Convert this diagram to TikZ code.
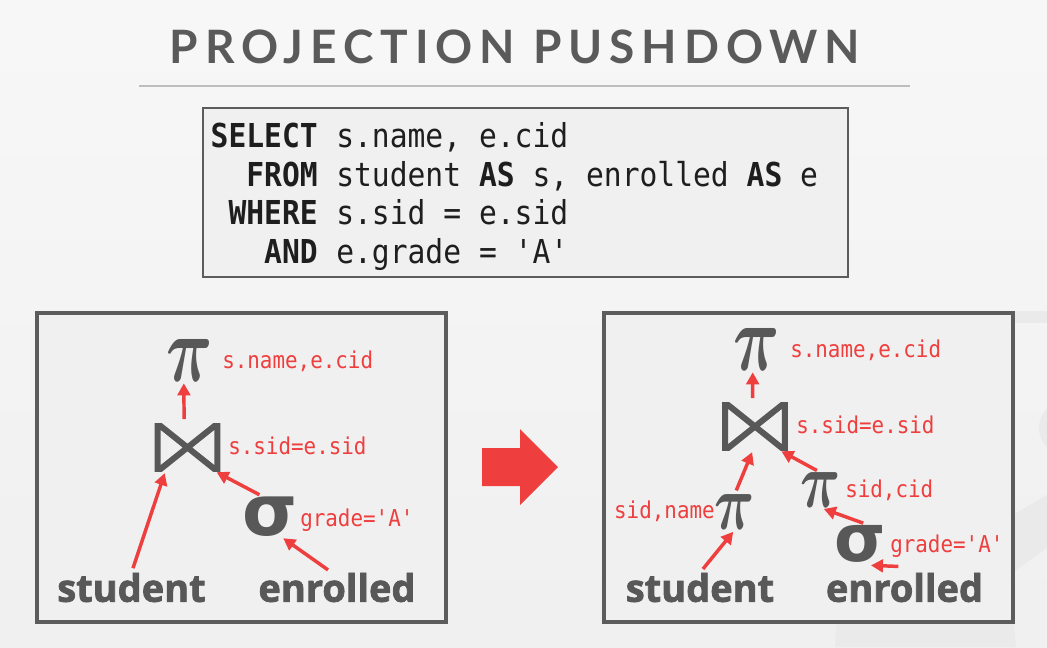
\RequirePackage{fix-cm}
\documentclass[tikz,border=0pt]{standalone}
\usepackage{fontspec}
\usetikzlibrary{arrows.meta}

\newfontfamily\titlefont[LetterSpace=15]{Lato}
\newfontfamily\codefont[FakeStretch=0.9]{DejaVu Sans Mono}
\newfontfamily\relfont[BoldFeatures={FakeBold=2}]{Open Sans}
\newfontfamily\greekfont{DejaVu Sans}

\definecolor{slidered}{RGB}{238,62,62}
\definecolor{opgray}{RGB}{88,88,88}
\definecolor{titlegray}{RGB}{90,90,90}
\definecolor{framegray}{RGB}{92,92,92}
\definecolor{panelgray}{RGB}{240,240,240}
\definecolor{markgray}{RGB}{234,234,234}
\definecolor{rulegray}{RGB}{190,190,190}
\definecolor{codeblack}{RGB}{30,30,30}

% pi and sigma glyphs
\newcommand{\projsym}[2]{\scalebox{#2}[1]{\fontsize{#1}{#1}\selectfont\boldmath$\pi$}}
\newcommand{\selsym}[1]{{\greekfont\bfseries\fontsize{#1}{#1}\selectfont σ}}
% bowtie drawn inside an empty node
\newcommand{\joinglyph}[1]{%
  \begin{scope}
    \clip (#1.south west) rectangle (#1.north east);
    \draw[joinline] ([xshift=2.25pt]#1.north west) -- ([xshift=-2.25pt]#1.south east)
      -- ([xshift=-2.25pt]#1.north east) -- ([xshift=2.25pt]#1.south west) -- cycle;
  \end{scope}}

\begin{document}
\begin{tikzpicture}[x=0.75pt,y=-0.75pt,
    panel/.style={draw=framegray,line width=2.6pt,fill=panelgray},
    op/.style={inner sep=0pt,text=opgray},
    rel/.style={inner sep=0pt,text=opgray,font=\relfont\bfseries\fontsize{28.5}{30}\selectfont},
    cond/.style={inner sep=0pt,text=slidered,font=\codefont\fontsize{17.4}{18}\selectfont},
    kw/.style={inner sep=0pt,anchor=base east,text=codeblack,font=\codefont\bfseries\fontsize{24.7}{26}\selectfont},
    code/.style={inner sep=0pt,anchor=base west,text=codeblack,font=\codefont\fontsize{24.7}{26}\selectfont},
    flow/.style={draw=slidered,line width=2.6pt,shorten <=3.5pt,shorten >=1.5pt,
      -{Triangle[length=9pt,width=9.5pt]}},
    joinbox/.style={inner sep=0pt,minimum width=48.75pt,minimum height=35.25pt},
    joinline/.style={draw=opgray,line width=4.5pt}]

    \useasboundingbox (0,0) rectangle (1047,647);
    % background and watermark
    \shade[top color=white!97!black,bottom color=white!94!black] (0,0) rectangle (1047,647);
    \begin{scope}
      \clip (0,0) rectangle (1047,647);
      \fill[markgray] (1013,311) rectangle (1047,323);
      \fill[markgray] (1066,428) circle (27);
      \fill[markgray] (1013,515) -- (1047,495) -- (1047,548) -- (1013,572) -- cycle;
      \fill[markgray] (837,615) -- (1013,615) -- (1016,647) -- (835,647) -- cycle;
    \end{scope}

    % title
    \node[anchor=base,inner sep=0pt,text=titlegray,font=\titlefont\bfseries\fontsize{34.5}{36}\selectfont]
      (title) at (515,63) {PROJECTION PUSHDOWN};
    \draw[rulegray,line width=1.5pt] (139,86) -- (910,86);

    % query
    \draw[draw=framegray,line width=2.2pt,fill=panelgray] (203,108) rectangle (848,277);
    \node[kw] (kwSelect) at (318,147) {SELECT};
    \node[code] (lnSelect) at (336,147) {s.name, e.cid};
    \node[kw] (kwFrom) at (318,186) {FROM};
    \node[code] (lnFrom) at (336,186) {student {\bfseries AS} s, enrolled {\bfseries AS} e};
    \node[kw] (kwWhere) at (318,224) {WHERE};
    \node[code] (lnWhere) at (336,224) {s.sid = e.sid};
    \node[kw] (kwAnd) at (318,263) {AND};
    \node[code] (lnAnd) at (336,263) {e.grade = 'A'};

    % before
    \draw[panel] (37,313) rectangle (446,622);
    \node[op] (piL) at (189.5,360) {\projsym{71}{0.68}};
    \node[cond,anchor=base west] (piLcond) at (222,368) {s.name,e.cid};
    \node[joinbox] (joinL) at (187.5,447.5) {};
    \joinglyph{joinL}
    \node[cond,anchor=base west] (joinLcond) at (228,454) {s.sid=e.sid};
    \node[op] (sigL) at (270.5,517) {\selsym{53}};
    \node[cond,anchor=base west] (sigLcond) at (300,526) {grade='A'};
    \node[rel] (stuL) at (131.5,587.5) {student};
    \node[rel] (enrL) at (337,587.5) {enrolled};

    \draw[flow] (joinL.98) -- (piL.255);
    \draw[flow] (stuL.north) -- (joinL.227);
    \draw[flow] (sigL.109) -- (joinL.319);
    \draw[flow] (enrL.109) -- (sigL.299);

    % arrow
    \fill[slidered] (482,448) -- (520,448) -- (520,429) -- (558,467) -- (520,505)
      -- (520,486) -- (482,486) -- cycle;

    % after
    \draw[panel] (604,313) rectangle (1013,622);
    \node[op] (piR) at (756.5,349) {\projsym{71}{0.68}};
    \node[cond,anchor=base west] (piRcond) at (790,357) {s.name,e.cid};
    \node[joinbox] (joinR) at (755,426.5) {};
    \joinglyph{joinR}
    \node[cond,anchor=base west] (joinRcond) at (796,433) {s.sid=e.sid};
    \node[op] (piA) at (734.5,512.5) {\projsym{59}{0.71}};
    \node[cond,anchor=base east] (piAcond) at (715,518) {sid,name};
    \node[op] (piB) at (821,490.5) {\projsym{59}{0.71}};
    \node[cond,anchor=base west] (piBcond) at (845,497) {sid,cid};
    \node[op] (sigR) at (860,543.5) {\selsym{49.5}};
    \node[cond,anchor=base west] (sigRcond) at (890,552) {grade='A'};
    \node[rel] (stuR) at (700,587.5) {student};
    \node[rel] (enrR) at (904.5,587.5) {enrolled};

    \draw[flow] (joinR.96) -- (piR.260);
    \draw[flow] (piA.north) -- (joinR.265);
    \draw[flow] (piB.north) -- (joinR.316);
    \draw[flow] (sigR.68) -- (piB.273);
    \draw[flow] (stuR.north) -- (piA.south);
    \draw[flow] ([xshift=-1.1pt,yshift=4.5pt]enrR.north) -- ([xshift=6.75pt,yshift=-2.25pt]sigR.south);
\end{tikzpicture}
\end{document}
